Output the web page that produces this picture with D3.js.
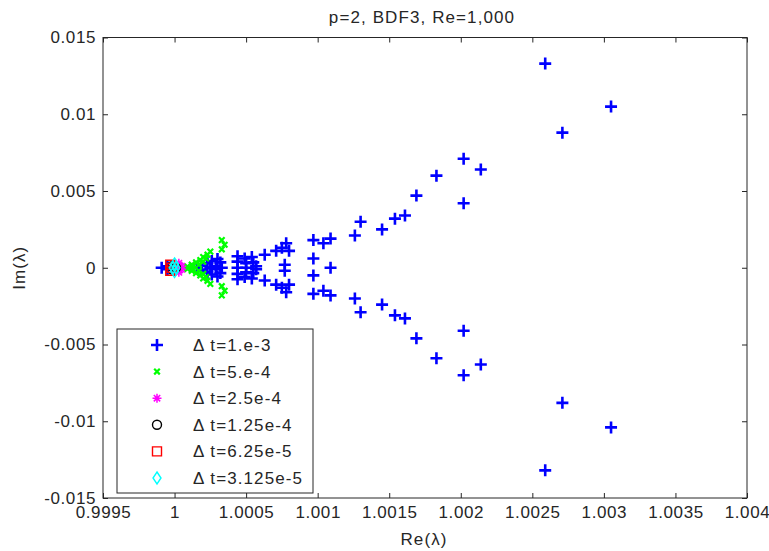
<!DOCTYPE html>
<html>
<head>
<meta charset="utf-8">
<script src="https://cdn.jsdelivr.net/npm/d3@7"></script>
<style>
  html, body { margin: 0; padding: 0; background: #ffffff; }
  svg { display: block; font-family: "Liberation Sans", Arial, sans-serif; }
  .lbl { font-size: 17px; letter-spacing: 1.1px; }
  .tk { font-size: 17px; letter-spacing: 0.6px; }
</style>
</head>
<body>
<svg id="chart" width="769" height="551"></svg>
<script>
// Eigenvalue spectra [Re, Im] for each time step size
const dt1e3 = [
  [1.00259, 0.0133], [1.00259, -0.0132],
  [1.00305, 0.0105], [1.00305, -0.0104],
  [1.00271, 0.0088], [1.00271, -0.0088],
  [1.00202, 0.0071], [1.00202, -0.0070],
  [1.00214, 0.0064], [1.00214, -0.0063],
  [1.00183, 0.0060], [1.00183, -0.0059],
  [1.00169, 0.0047], [1.00169, -0.0046],
  [1.00202, 0.0042], [1.00202, -0.0041],
  [1.00161, 0.0034], [1.00161, -0.0033],
  [1.00154, 0.0032], [1.00154, -0.0031],
  [1.00145, 0.0025], [1.00145, -0.0024],
  [1.00130, 0.0030], [1.00130, -0.0029],
  [1.00126, 0.0021], [1.00126, -0.0020],
  [1.00109, 0.0019], [1.00109, -0.0018],
  [1.00097, 0.0018], [1.00097, -0.0017],
  [1.00104, 0.0016], [1.00104, -0.0015],
  [1.00097, 0.0006], [1.00097, -0.0005],
  [1.00109, 0.0000],
  [1.00080, 0.0011], [1.00080, -0.0011],
  [1.00078, 0.0016], [1.00078, -0.0016],
  [1.00075, 0.0013], [1.00075, -0.0013],
  [1.00071, 0.0011], [1.00071, -0.0011],
  [1.00077, 0.0002], [1.00077, -0.0002],
  [1.00063, 0.00085], [1.00063, -0.00083],
  [1.00044, 0.00075], [1.00044, -0.00075],
  [1.00049, 0.0006], [1.00049, -0.0006],
  [1.00054, 0.0007], [1.00054, -0.0007],
  [1.00044, 0.0004], [1.00044, -0.0004],
  [1.00050, 0.0003], [1.00050, -0.0003],
  [1.00055, 0.00035], [1.00055, -0.00035],
  [1.00057, 0.0001], [1.00057, -0.0001],
  [1.00044, 0.0], [1.00050, 0.0],
  [1.000157, 0.0],
  [1.00019, 0.00012], [1.00019, -0.00012],
  [1.00023, 0.0003], [1.00023, -0.0003],
  [1.00026, 0.00044], [1.00026, -0.00044],
  [1.00030, 0.00057], [1.00030, -0.00057],
  [1.00032, 0.00035], [1.00032, -0.00035],
  [1.00029, 0.0001], [1.00029, -0.0001],
  [1.00025, 0.0], [1.00033, 0.0],
  [0.99991, 0.0], [0.99995, 0.0001], [0.99995, -0.0001]
];
const dt5e4 = [
  [1.00033, 0.0018], [1.00035, 0.0015], [1.00033, 0.0012],
  [1.00033, -0.0018], [1.00035, -0.0015], [1.00033, -0.0012],
  [1.00006, 0.0],
  [1.00009, 0.00008], [1.00009, -0.00008],
  [1.00012, 0.0002], [1.00012, -0.0002],
  [1.00015, 0.00035], [1.00015, -0.00035],
  [1.00018, 0.0005], [1.00018, -0.0005],
  [1.00020, 0.0007], [1.00020, -0.0007],
  [1.00023, 0.00085], [1.00023, -0.00085],
  [1.00025, 0.00105], [1.00025, -0.00105],
  [1.00013, 0.0001], [1.00013, -0.0001],
  [1.00017, 0.0002], [1.00017, -0.0002],
  [1.00020, 0.0004], [1.00020, -0.0004],
  [1.00022, 0.0006], [1.00022, -0.0006]
];
const dt25e4 = [
  [1.00000, 0.0002], [1.00003, 0.0003], [1.00005, 0.0001],
  [1.00005, -0.0001], [1.00003, -0.0003], [1.00000, -0.0002],
  [1.00002, 0.0]
];
const dt125e4 = [[0.99998, 0.0001], [0.99998, -0.0001], [1.00001, 0.0]];
const dt625e5 = [[0.99997, 0.0002], [0.99997, -0.0002], [0.99998, 0.0]];
const dt3125e5 = [[1.0, 0.00025], [1.0, -0.00025], [0.99999, 0.0], [1.00001, 0.0]];

const seriesLabels = ["\u0394 t=1.e-3", "\u0394 t=5.e-4", "\u0394 t=2.5e-4",
                      "\u0394 t=1.25e-4", "\u0394 t=6.25e-5", "\u0394 t=3.125e-5"];
const xTicks = [0.9995, 1, 1.0005, 1.001, 1.0015, 1.002, 1.0025, 1.003, 1.0035, 1.004];
const xTickLabels = ["0.9995", "1", "1.0005", "1.001", "1.0015", "1.002", "1.0025", "1.003", "1.0035", "1.004"];
const yTicks = [-0.015, -0.01, -0.005, 0, 0.005, 0.01, 0.015];
const yTickLabels = ["-0.015", "-0.01", "-0.005", "0", "0.005", "0.01", "0.015"];

// marker shapes and colours per series
const markers = [
  { d: "M-6,0H6M0,-6V6", color: "#0000ff", width: 2.6, fill: "none" },
  { d: "M-2.8,-2.8L2.8,2.8M-2.8,2.8L2.8,-2.8", color: "#00ff00", width: 2.2, fill: "none" },
  { d: "M-4.5,0H4.5M0,-4.5V4.5M-3.2,-3.2L3.2,3.2M-3.2,3.2L3.2,-3.2", color: "#ff00ff", width: 1.5, fill: "none" },
  { d: "M4.5,0A4.5,4.5 0 1 1 -4.5,0A4.5,4.5 0 1 1 4.5,0Z", color: "#000000", width: 1.4, fill: "none" },
  { d: "M-4.5,-4.5H4.5V4.5H-4.5Z", color: "#ff0000", width: 1.4, fill: "none" },
  { d: "M0,-6L4,0L0,6L-4,0Z", color: "#00ffff", width: 1.4, fill: "none" }
];
const allSeries = [dt1e3, dt5e4, dt25e4, dt125e4, dt625e5, dt3125e5];

const svg = d3.select("#chart");
const plotLeft = 103, plotRight = 747, plotTop = 37.5, plotBottom = 498;
const x = d3.scaleLinear().domain([0.9995, 1.004]).range([plotLeft, plotRight]);
const y = d3.scaleLinear().domain([-0.015, 0.015]).range([plotBottom, plotTop]);
const axisColor = "#262626";
const textColor = "#262626";

svg.append("rect").attr("x", 0).attr("y", 0).attr("width", 769).attr("height", 551).attr("fill", "#fff");

// axes with inward ticks
function styleAxis(g) {
  g.select(".domain").remove();
  g.selectAll(".tick line").attr("stroke", axisColor).attr("stroke-width", 1);
  g.selectAll(".tick text").attr("fill", textColor).attr("class", "tk");
}
svg.append("g").attr("transform", `translate(0,${plotBottom})`)
  .call(d3.axisBottom(x).tickValues(xTicks).tickSizeInner(-5).tickSizeOuter(0).tickPadding(8)
    .tickFormat((d, i) => xTickLabels[i]))
  .call(g => g.attr("font-size", null).attr("font-family", null))
  .call(styleAxis);
svg.append("g").attr("transform", `translate(0,${plotTop})`)
  .call(d3.axisTop(x).tickValues(xTicks).tickSizeInner(-5).tickSizeOuter(0).tickFormat(""))
  .call(styleAxis);
svg.append("g").attr("transform", `translate(${plotLeft},0)`)
  .call(d3.axisLeft(y).tickValues(yTicks).tickSizeInner(-5).tickSizeOuter(0).tickPadding(7)
    .tickFormat((d, i) => yTickLabels[i]))
  .call(g => g.attr("font-size", null).attr("font-family", null))
  .call(styleAxis);
svg.append("g").attr("transform", `translate(${plotRight},0)`)
  .call(d3.axisRight(y).tickValues(yTicks).tickSizeInner(-5).tickSizeOuter(0).tickFormat(""))
  .call(styleAxis);

svg.append("rect").attr("x", plotLeft).attr("y", plotTop)
  .attr("width", plotRight - plotLeft).attr("height", plotBottom - plotTop)
  .attr("fill", "none").attr("stroke", axisColor).attr("stroke-width", 1);

// eigenvalue markers
allSeries.forEach((data, i) => {
  const m = markers[i];
  svg.append("g").selectAll("path").data(data).join("path")
    .attr("transform", d => `translate(${x(d[0])},${y(d[1])})`)
    .attr("d", m.d).attr("fill", m.fill).attr("stroke", m.color).attr("stroke-width", m.width);
});

// titles
svg.append("text").attr("class", "lbl").attr("x", 422).attr("y", 23).attr("text-anchor", "middle")
  .attr("fill", textColor).text("p=2, BDF3, Re=1,000");
svg.append("text").attr("class", "lbl").attr("x", 424).attr("y", 545).attr("text-anchor", "middle")
  .attr("fill", textColor).text("Re(\u03bb)");
svg.append("text").attr("class", "lbl").attr("transform", `translate(25,${(plotTop + plotBottom) / 2}) rotate(-90)`)
  .attr("text-anchor", "middle").attr("fill", textColor).text("Im(\u03bb)");

// legend
const lg = svg.append("g");
lg.append("rect").attr("x", 117).attr("y", 329).attr("width", 196).attr("height", 164)
  .attr("fill", "#fff").attr("stroke", axisColor).attr("stroke-width", 1);
seriesLabels.forEach((label, i) => {
  const cy = 345 + i * 26.6;
  const m = markers[i];
  lg.append("path").attr("transform", `translate(157,${cy})`).attr("d", m.d)
    .attr("fill", m.fill).attr("stroke", m.color).attr("stroke-width", m.width);
  lg.append("text").attr("class", "lbl").attr("x", 193).attr("y", cy + 6).attr("fill", textColor)
    .text(label);
});
</script>
</body>
</html>
